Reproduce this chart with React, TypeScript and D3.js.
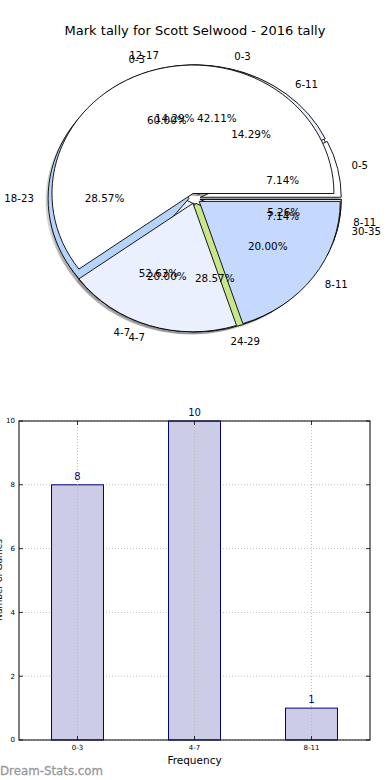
import React from 'react';
import * as d3 from 'd3';

// ---- data ----
const pieACats = ['0-3', '4-7', '8-11'];
const pieAValues = [8, 10, 1];
const pieBCats = ['0-3', '4-7', '8-11'];
const pieBValues = [3, 1, 1];
const pieCCats = ['0-5', '6-11', '12-17', '18-23', '24-29', '30-35'];
const pieCValues = [1, 2, 2, 4, 4, 1];

const barCats = ['0-3', '4-7', '8-11'];
const barValues = [8, 10, 1];
const yTicks = [0, 2, 4, 6, 8, 10];

const pieAColors = ['#ffffff', '#eaf0fd', '#c5d8fd'];
const pieBColors = ['#ffffff', '#eaf0fd', '#c5d8fd'];
const pieCColors = ['#ffffff', '#eaf0fd', '#ffffff', '#b6d3f9', '#c9e68b', '#ffffff'];

const title = 'Mark tally for Scott Selwood - 2016 tally';

// ---- layout ----
const W = 390;
const H = 780;
const cx = 194.7;
const cy = 198.4;
const sx = 141;
const sy = 128.5;
const explode = 0.04;

const font = 'DejaVu Sans, Liberation Sans, sans-serif';

type Pie = { cats: string[]; values: number[]; colors: string[] };
const pies: Pie[] = [
  { cats: pieACats, values: pieAValues, colors: pieAColors },
  { cats: pieCCats, values: pieCValues, colors: pieCColors },
  { cats: pieBCats, values: pieBValues, colors: pieBColors },
];

const pieGen = d3
  .pie<number>()
  .sort(null)
  .value((d) => d)
  .startAngle(Math.PI / 2)
  .endAngle(Math.PI / 2 - 2 * Math.PI);

const arcGen = d3.arc<d3.PieArcDatum<number>>().innerRadius(0).outerRadius(1);

function computed(p: Pie) {
  const total = d3.sum(p.values);
  return pieGen(p.values).map((a, i) => {
    const m = (a.startAngle + a.endAngle) / 2;
    const ux = Math.sin(m);
    const uy = -Math.cos(m);
    return {
      a,
      i,
      ux,
      uy,
      ox: cx + sx * explode * ux,
      oy: cy + sy * explode * uy,
      pct: ((p.values[i] / total) * 100).toFixed(2) + '%',
    };
  });
}

export default function App() {
  // bar chart scales
  const x = d3
    .scaleBand<string>()
    .domain(barCats)
    .range([19, 370])
    .paddingInner(0.556)
    .paddingOuter(0.278);
  const y = d3.scaleLinear().domain([0, 10]).range([740, 421]);

  const pieData = pies.map((p) => ({ p, wedges: computed(p) }));

  return (
    <svg width={W} height={H} style={{ position: 'absolute', left: 0, top: 0, background: '#fff' }}>
      <rect x={0} y={0} width={W} height={H} fill="#fff" />
      <text x={195} y={35} fontFamily={font} fontSize={13} textAnchor="middle">
        {title}
      </text>

      {/* shadows */}
      {pieData.map(({ wedges }, pi) =>
        wedges.map((w) => (
          <g key={`s${pi}-${w.i}`} transform={`translate(${w.ox - 2.5},${w.oy + 2.5}) scale(${sx},${sy})`}>
            <path d={arcGen(w.a) || ''} fill="#4d4d4d" opacity={0.25} />
          </g>
        ))
      )}

      {/* wedges */}
      {pieData.map(({ p, wedges }, pi) =>
        wedges.map((w) => (
          <g key={`w${pi}-${w.i}`} transform={`translate(${w.ox},${w.oy}) scale(${sx},${sy})`}>
            <path
              d={arcGen(w.a) || ''}
              fill={p.colors[w.i % p.colors.length]}
              stroke="#000"
              strokeWidth={0.9}
              vectorEffect="non-scaling-stroke"
              strokeLinejoin="round"
            />
          </g>
        ))
      )}

      {/* labels */}
      {pieData.map(({ p, wedges }, pi) =>
        wedges.map((w) => (
          <g key={`l${pi}-${w.i}`}>
            <text
              x={w.ox + sx * 1.1 * w.ux}
              y={w.oy + sy * 1.1 * w.uy}
              dy="0.36em"
              fontFamily={font}
              fontSize={10.2}
              textAnchor={w.ux > 0 ? 'start' : 'end'}
            >
              {p.cats[w.i]}
            </text>
            <text
              x={w.ox + sx * 0.6 * w.ux}
              y={w.oy + sy * 0.6 * w.uy}
              dy="0.36em"
              fontFamily={font}
              fontSize={10.4}
              textAnchor="middle"
            >
              {w.pct}
            </text>
          </g>
        ))
      )}

      {/* bar chart */}
      <g>
        {yTicks.map((t) => (
          <line
            key={`gy${t}`}
            x1={19}
            x2={370}
            y1={y(t)}
            y2={y(t)}
            stroke="#b0b0b0"
            strokeWidth={0.8}
            strokeDasharray="1,2"
          />
        ))}
        {barCats.map((c, i) => (
          <rect
            key={`b${c}`}
            x={x(c)!}
            y={y(barValues[i])}
            width={x.bandwidth()}
            height={y(0) - y(barValues[i])}
            fill="#cccce6"
            stroke="#000080"
            strokeWidth={1}
          />
        ))}
        {barCats.map((c) => (
          <line
            key={`gx${c}`}
            x1={x(c)! + x.bandwidth() / 2}
            x2={x(c)! + x.bandwidth() / 2}
            y1={421}
            y2={740}
            stroke="#b0b0b0"
            strokeWidth={0.8}
            strokeDasharray="1,2"
          />
        ))}
        {barCats.map((c, i) => (
          <text
            key={`v${c}`}
            x={x(c)! + x.bandwidth() / 2}
            y={y(barValues[i]) - 5}
            fontFamily={font}
            fontSize={10}
            fill="#000080"
            textAnchor="middle"
          >
            {barValues[i]}
          </text>
        ))}
        <rect x={19} y={421} width={351} height={319} fill="none" stroke="#000" strokeWidth={1} />
        {yTicks.map((t) => (
          <g key={`ty${t}`}>
            <line x1={19} x2={23} y1={y(t)} y2={y(t)} stroke="#000" strokeWidth={0.8} />
            <line x1={366} x2={370} y1={y(t)} y2={y(t)} stroke="#000" strokeWidth={0.8} />
            <text x={15} y={y(t)} dy="0.35em" fontFamily={font} fontSize={7} textAnchor="end">
              {t}
            </text>
          </g>
        ))}
        {barCats.map((c) => (
          <g key={`tx${c}`}>
            <line
              x1={x(c)! + x.bandwidth() / 2}
              x2={x(c)! + x.bandwidth() / 2}
              y1={740}
              y2={736}
              stroke="#000"
              strokeWidth={0.8}
            />
            <line
              x1={x(c)! + x.bandwidth() / 2}
              x2={x(c)! + x.bandwidth() / 2}
              y1={421}
              y2={425}
              stroke="#000"
              strokeWidth={0.8}
            />
            <text
              x={x(c)! + x.bandwidth() / 2}
              y={750}
              fontFamily={font}
              fontSize={7}
              textAnchor="middle"
            >
              {c}
            </text>
          </g>
        ))}
        <text x={194.5} y={764} fontFamily={font} fontSize={10.5} textAnchor="middle">
          Frequency
        </text>
        <text
          transform={`translate(1.5,580) rotate(-90)`}
          fontFamily={font}
          fontSize={9}
          textAnchor="middle"
        >
          Number of Games
        </text>
        <text x={0} y={775} fontFamily={font} fontSize={11.8} fill="#999999" stroke="#999999" strokeWidth={0.3}>
          Dream-Stats.com
        </text>
      </g>
    </svg>
  );
}
